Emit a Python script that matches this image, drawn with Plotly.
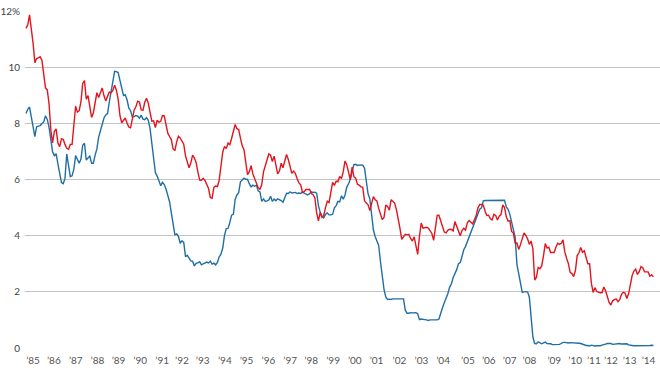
import plotly.graph_objects as go

START_YEAR = 1985
# Monthly values, Jan 1985 onward (percent)
red_rate = [
    11.38, 11.51, 11.86, 11.43, 10.85, 10.16, 10.31, 10.33, 10.37, 10.24, 9.78, 9.26,
    9.19, 8.70, 7.78, 7.30, 7.71, 7.80, 7.30, 7.17, 7.45, 7.43, 7.25, 7.11,
    7.08, 7.25, 7.25, 8.02, 8.61, 8.40, 8.45, 8.76, 9.42, 9.52, 8.86, 8.99,
    8.67, 8.21, 8.37, 8.72, 9.09, 8.92, 9.06, 9.26, 8.98, 8.80, 8.96, 9.11,
    9.09, 9.17, 9.36, 9.18, 8.86, 8.28, 8.02, 8.11, 8.19, 8.01, 7.87, 7.84,
    8.21, 8.47, 8.59, 8.79, 8.76, 8.48, 8.47, 8.75, 8.89, 8.72, 8.39, 8.08,
    8.09, 7.85, 8.11, 8.04, 8.07, 8.28, 8.27, 7.90, 7.65, 7.53, 7.42, 7.09,
    7.03, 7.34, 7.54, 7.48, 7.39, 7.26, 6.84, 6.59, 6.42, 6.59, 6.87, 6.77,
    6.60, 6.26, 5.98, 5.97, 6.04, 5.96, 5.81, 5.68, 5.36, 5.33, 5.72, 5.77,
    5.75, 5.97, 6.48, 6.97, 7.18, 7.10, 7.30, 7.24, 7.46, 7.74, 7.96, 7.81,
    7.78, 7.47, 7.20, 7.06, 6.63, 6.17, 6.28, 6.49, 6.20, 6.04, 5.93, 5.71,
    5.65, 5.81, 6.27, 6.51, 6.74, 6.91, 6.87, 6.64, 6.83, 6.53, 6.20, 6.30,
    6.58, 6.42, 6.69, 6.89, 6.71, 6.49, 6.22, 6.30, 6.21, 6.03, 5.88, 5.81,
    5.54, 5.57, 5.65, 5.64, 5.65, 5.50, 5.46, 5.34, 4.81, 4.53, 4.83, 4.65,
    4.72, 5.00, 5.23, 5.18, 5.54, 5.90, 5.79, 5.94, 5.92, 6.11, 6.03, 6.28,
    6.66, 6.52, 6.26, 5.99, 6.44, 6.10, 6.05, 5.83, 5.80, 5.74, 5.72, 5.24,
    5.16, 5.10, 4.89, 5.14, 5.39, 5.28, 5.24, 4.97, 4.73, 4.57, 4.65, 5.09,
    5.04, 4.91, 5.28, 5.21, 5.16, 4.93, 4.65, 4.26, 3.87, 3.94, 4.05, 4.03,
    4.05, 3.90, 3.81, 3.96, 3.57, 3.33, 3.98, 4.45, 4.27, 4.29, 4.30, 4.27,
    4.15, 4.08, 3.83, 4.35, 4.72, 4.73, 4.50, 4.28, 4.13, 4.10, 4.19, 4.23,
    4.22, 4.17, 4.50, 4.34, 4.14, 4.00, 4.18, 4.26, 4.20, 4.46, 4.54, 4.47,
    4.42, 4.57, 4.72, 4.99, 5.11, 5.11, 5.09, 4.88, 4.72, 4.73, 4.60, 4.56,
    4.76, 4.72, 4.56, 4.69, 4.75, 5.10, 5.00, 4.67, 4.52, 4.53, 4.15, 4.10,
    3.74, 3.74, 3.51, 3.68, 3.88, 4.10, 4.01, 3.89, 3.69, 3.81, 3.53, 2.42,
    2.52, 2.87, 2.82, 2.93, 3.29, 3.72, 3.56, 3.59, 3.40, 3.39, 3.40, 3.59,
    3.73, 3.69, 3.73, 3.85, 3.42, 3.20, 3.01, 2.70, 2.65, 2.54, 2.76, 3.29,
    3.39, 3.58, 3.41, 3.46, 3.17, 3.00, 3.00, 2.30, 1.98, 2.15, 2.01, 1.98,
    1.97, 1.97, 2.17, 2.05, 1.80, 1.62, 1.53, 1.68, 1.72, 1.75, 1.65, 1.72,
    1.91, 1.98, 1.96, 1.76, 1.93, 2.30, 2.58, 2.74, 2.81, 2.62, 2.72, 2.90,
    2.86, 2.71, 2.72, 2.71, 2.56, 2.60, 2.54,
]
blue_rate = [
    8.35, 8.50, 8.58, 8.27, 7.97, 7.53, 7.88, 7.90, 7.92, 7.99, 8.05, 8.27,
    8.14, 7.86, 7.48, 6.99, 6.85, 6.92, 6.56, 6.17, 5.89, 5.85, 6.04, 6.91,
    6.43, 6.10, 6.13, 6.37, 6.85, 6.73, 6.58, 6.73, 7.22, 7.29, 6.69, 6.77,
    6.83, 6.58, 6.58, 6.87, 7.09, 7.51, 7.75, 8.01, 8.19, 8.30, 8.35, 8.76,
    9.12, 9.36, 9.85, 9.84, 9.81, 9.53, 9.24, 8.99, 9.02, 8.84, 8.55, 8.45,
    8.23, 8.24, 8.28, 8.26, 8.18, 8.29, 8.15, 8.13, 8.20, 8.11, 7.81, 7.31,
    6.91, 6.25, 6.12, 5.91, 5.78, 5.90, 5.82, 5.66, 5.45, 5.21, 4.81, 4.43,
    4.03, 4.06, 3.98, 3.73, 3.82, 3.76, 3.25, 3.30, 3.22, 3.10, 3.09, 2.92,
    3.02, 3.03, 3.07, 2.96, 3.00, 3.04, 3.06, 3.03, 3.09, 2.99, 3.02, 2.96,
    3.05, 3.25, 3.34, 3.56, 4.01, 4.25, 4.26, 4.47, 4.73, 4.76, 5.29, 5.45,
    5.53, 5.92, 5.98, 6.05, 6.01, 6.00, 5.85, 5.74, 5.80, 5.76, 5.80, 5.60,
    5.56, 5.22, 5.31, 5.22, 5.24, 5.27, 5.40, 5.22, 5.30, 5.24, 5.31, 5.29,
    5.25, 5.19, 5.39, 5.51, 5.50, 5.56, 5.52, 5.54, 5.54, 5.50, 5.52, 5.50,
    5.56, 5.51, 5.49, 5.45, 5.49, 5.56, 5.54, 5.55, 5.51, 5.07, 4.83, 4.68,
    4.63, 4.76, 4.81, 4.74, 4.74, 4.76, 4.99, 5.07, 5.22, 5.20, 5.42, 5.30,
    5.45, 5.73, 5.85, 6.02, 6.27, 6.53, 6.54, 6.50, 6.52, 6.51, 6.51, 6.40,
    5.98, 5.49, 5.31, 4.80, 4.21, 3.97, 3.77, 3.65, 3.07, 2.49, 2.09, 1.82,
    1.73, 1.74, 1.73, 1.75, 1.75, 1.75, 1.73, 1.74, 1.75, 1.75, 1.34, 1.24,
    1.24, 1.26, 1.25, 1.26, 1.26, 1.22, 1.01, 1.03, 1.01, 1.01, 1.00, 0.98,
    1.00, 1.01, 1.00, 1.00, 1.00, 1.03, 1.26, 1.43, 1.61, 1.76, 1.93, 2.16,
    2.28, 2.50, 2.63, 2.79, 3.00, 3.04, 3.26, 3.50, 3.62, 3.78, 4.00, 4.16,
    4.29, 4.49, 4.59, 4.79, 4.94, 4.99, 5.24, 5.25, 5.25, 5.25, 5.25, 5.24,
    5.25, 5.26, 5.26, 5.25, 5.25, 5.25, 5.26, 5.02, 4.94, 4.76, 4.49, 4.24,
    3.94, 2.98, 2.61, 2.28, 1.98, 2.00, 2.01, 2.00, 1.81, 0.97, 0.39, 0.16,
    0.15, 0.22, 0.18, 0.15, 0.18, 0.21, 0.16, 0.16, 0.15, 0.12, 0.12, 0.12,
    0.11, 0.13, 0.16, 0.20, 0.20, 0.18, 0.18, 0.19, 0.19, 0.19, 0.19, 0.18,
    0.17, 0.16, 0.14, 0.10, 0.09, 0.09, 0.07, 0.10, 0.08, 0.07, 0.08, 0.07,
    0.08, 0.10, 0.13, 0.14, 0.16, 0.16, 0.16, 0.13, 0.14, 0.16, 0.16, 0.16,
    0.14, 0.15, 0.14, 0.15, 0.11, 0.09, 0.09, 0.08, 0.08, 0.09, 0.08, 0.09,
    0.07, 0.07, 0.08, 0.09, 0.09, 0.10, 0.09,
]
x_tick_labels = ["’85", "’86", "’87", "’88", "’89", "’90", "’91", "’92", "’93", "’94",
                 "’95", "’96", "’97", "’98", "’99", "’00", "’01", "’02", "’03", "’04",
                 "’05", "’06", "’07", "’08", "’09", "’10", "’11", "’12", "’13", "’14"]
y_tick_vals = [0, 2, 4, 6, 8, 10, 12]
y_tick_labels = ["0", "2", "4", "6", "8", "10", "12%"]

# layout: tick label positions on the fractional-year axis
x_tick_pos = [1985.33, 1986.31, 1987.34, 1988.36, 1989.35, 1990.37, 1991.40, 1992.33,
              1993.31, 1994.35, 1995.37, 1996.40, 1997.42, 1998.41, 1999.44, 2000.46,
              2001.48, 2002.56, 2003.59, 2004.61, 2005.78, 2006.76, 2007.74, 2008.67,
              2009.84, 2010.82, 2011.70, 2012.50, 2013.38, 2014.27]

x_red = [START_YEAR + i / 12 for i in range(len(red_rate))]
x_blue = [START_YEAR + i / 12 for i in range(len(blue_rate))]

fig = go.Figure()
fig.add_trace(go.Scatter(x=x_blue, y=blue_rate, mode="lines",
                         line=dict(color="#1f6fa5", width=1.4), hoverinfo="skip"))
fig.add_trace(go.Scatter(x=x_red, y=red_rate, mode="lines",
                         line=dict(color="#e3141c", width=1.4), hoverinfo="skip"))

fig.update_layout(
    width=660, height=368,
    margin=dict(l=22, r=0, t=11, b=20),
    paper_bgcolor="white", plot_bgcolor="white",
    showlegend=False,
    font=dict(family="Lato, Noto Sans, sans-serif", size=10, color="#444444"),
    xaxis=dict(range=[1984.953, 2014.81], tickvals=x_tick_pos, ticktext=x_tick_labels,
               showgrid=False, zeroline=False, showline=False,
               ticks="outside", ticklen=3, tickcolor="rgba(0,0,0,0)",
               tickfont=dict(size=10, color="#555555")),
    yaxis=dict(range=[0, 12], tickvals=y_tick_vals, ticktext=y_tick_labels,
               showgrid=True, gridcolor="#c4c4c4", gridwidth=1,
               zeroline=False, showline=False, ticks="", ticklabelstandoff=4,
               tickfont=dict(size=10, color="#444444")),
)

fig.write_html("out.html",
               config={"displayModeBar": False, "staticPlot": True},
               post_script="document.body.style.margin='0';document.body.style.overflow='hidden';")
